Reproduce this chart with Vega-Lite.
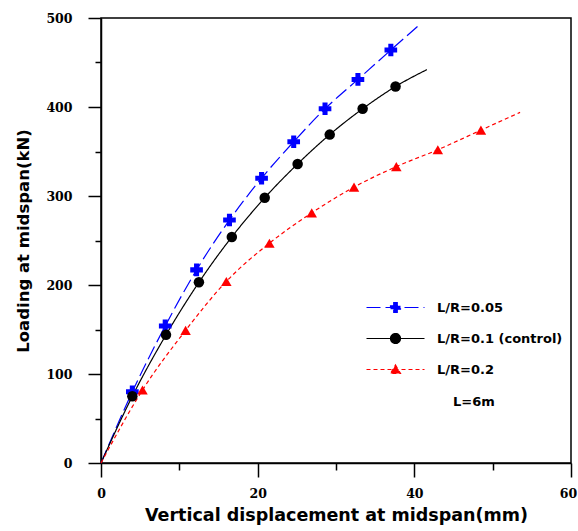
{
  "$schema": "https://vega.github.io/schema/vega-lite/v6.json",
  "autosize": "none",
  "width": 470,
  "height": 445,
  "padding": {"left": 101, "top": 18, "right": 7, "bottom": 68},
  "background": "white",
  "config": {
    "view": {"stroke": "black", "strokeWidth": 1.5},
    "axis": {"grid": false, "domainColor": "black", "domainWidth": 1.5, "tickColor": "black", "tickWidth": 1.5, "labelColor": "black", "titleColor": "black", "labelFlush": false, "labelOverlap": false}
  },
  "datasets": {
    "curves": [
      {"series": "L/R=0.05", "disp": 0, "load": 0, "measured": false},
      {"series": "L/R=0.05", "disp": 4.0, "load": 80, "measured": true},
      {"series": "L/R=0.05", "disp": 8.2, "load": 154, "measured": true},
      {"series": "L/R=0.05", "disp": 12.2, "load": 217, "measured": true},
      {"series": "L/R=0.05", "disp": 16.4, "load": 273, "measured": true},
      {"series": "L/R=0.05", "disp": 20.5, "load": 320, "measured": true},
      {"series": "L/R=0.05", "disp": 24.6, "load": 361, "measured": true},
      {"series": "L/R=0.05", "disp": 28.6, "load": 398, "measured": true},
      {"series": "L/R=0.05", "disp": 32.8, "load": 431, "measured": true},
      {"series": "L/R=0.05", "disp": 37.0, "load": 464, "measured": true},
      {"series": "L/R=0.05", "disp": 40.6, "load": 492, "measured": false},
      {"series": "L/R=0.1 (control)", "disp": 0, "load": 0, "measured": false},
      {"series": "L/R=0.1 (control)", "disp": 4.0, "load": 75, "measured": true},
      {"series": "L/R=0.1 (control)", "disp": 8.3, "load": 144, "measured": true},
      {"series": "L/R=0.1 (control)", "disp": 12.5, "load": 203, "measured": true},
      {"series": "L/R=0.1 (control)", "disp": 16.7, "load": 254, "measured": true},
      {"series": "L/R=0.1 (control)", "disp": 20.9, "load": 298, "measured": true},
      {"series": "L/R=0.1 (control)", "disp": 25.1, "load": 336, "measured": true},
      {"series": "L/R=0.1 (control)", "disp": 29.2, "load": 369, "measured": true},
      {"series": "L/R=0.1 (control)", "disp": 33.4, "load": 398, "measured": true},
      {"series": "L/R=0.1 (control)", "disp": 37.6, "load": 423, "measured": true},
      {"series": "L/R=0.1 (control)", "disp": 41.6, "load": 442, "measured": false},
      {"series": "L/R=0.2", "disp": 0, "load": 0, "measured": false},
      {"series": "L/R=0.2", "disp": 5.3, "load": 82, "measured": true},
      {"series": "L/R=0.2", "disp": 10.8, "load": 149, "measured": true},
      {"series": "L/R=0.2", "disp": 16.0, "load": 204, "measured": true},
      {"series": "L/R=0.2", "disp": 21.5, "load": 247, "measured": true},
      {"series": "L/R=0.2", "disp": 26.9, "load": 281, "measured": true},
      {"series": "L/R=0.2", "disp": 32.3, "load": 310, "measured": true},
      {"series": "L/R=0.2", "disp": 37.7, "load": 333, "measured": true},
      {"series": "L/R=0.2", "disp": 43.0, "load": 352, "measured": true},
      {"series": "L/R=0.2", "disp": 48.5, "load": 374, "measured": true},
      {"series": "L/R=0.2", "disp": 53.5, "load": 394, "measured": false}
    ],
    "notes": [
      {"note": "L=6m", "disp": 47.6, "load": 68}
    ]
  },
  "encoding": {
    "x": {
      "field": "disp", "type": "quantitative",
      "scale": {"domain": [0, 60], "nice": false, "zero": true},
      "axis": {
        "values": [0, 10, 20, 30, 40, 50, 60],
        "labelExpr": "datum.value % 20 === 0 ? datum.label : ''",
        "tickSize": {"condition": {"test": "datum.value % 20 === 0", "value": 14}, "value": 7},
        "labelOffset": {"condition": {"test": "datum.value === 60", "value": -3}, "value": 0},
        "labelFont": "DejaVu Serif", "labelFontWeight": "bold", "labelFontSize": 12.5,
        "labelPadding": 10,
        "title": "Vertical displacement at midspan(mm)",
        "titleFont": "DejaVu Sans", "titleFontSize": 17.5, "titleFontWeight": "bold",
        "titlePadding": 7
      }
    },
    "y": {
      "field": "load", "type": "quantitative",
      "scale": {"domain": [0, 500], "nice": false},
      "axis": {
        "values": [0, 50, 100, 150, 200, 250, 300, 350, 400, 450, 500],
        "labelExpr": "datum.value % 100 === 0 ? datum.label : ''",
        "tickSize": {"condition": {"test": "datum.value % 100 === 0", "value": 13}, "value": 6},
        "labelFont": "DejaVu Serif", "labelFontWeight": "bold", "labelFontSize": 12.5,
        "labelPadding": 16,
        "title": "Loading at midspan(kN)",
        "titleFont": "DejaVu Sans", "titleFontSize": 16.5, "titleFontWeight": "bold",
        "titlePadding": 14
      }
    }
  },
  "layer": [
    {
      "data": {"name": "curves"},
      "mark": {"type": "line", "interpolate": "monotone", "strokeWidth": 1.2},
      "encoding": {
        "color": {
          "field": "series", "type": "nominal",
          "scale": {"domain": ["L/R=0.05", "L/R=0.1 (control)", "L/R=0.2"], "range": ["#0000ff", "#000000", "#ff0000"]},
          "legend": {
            "orient": "none", "legendX": 264, "legendY": 283, "title": null,
            "padding": 0, "symbolSize": 100, "symbolStrokeWidth": 1.2,
            "labelOffset": 59, "rowPadding": 16,
            "labelFont": "DejaVu Sans", "labelFontWeight": "bold", "labelFontSize": 13, "labelColor": "black",
            "encode": {
              "symbols": {
                "update": {
                  "shape": {"signal": "datum.value === 'L/R=0.05' ? 'M-1,0H10.6M3.8,-0.35H4.45V-1H5.15V-0.35H5.8V0.35H5.15V1H4.45V0.35H3.8Z' : (datum.value === 'L/R=0.2' ? 'M-1,0H10.6M4.8,-0.9L5.8,0.8H3.8Z' : 'M-1,0H10.6M3.8,0A1,1,0,1,1,5.8,0A1,1,0,1,1,3.8,0Z')"},
                  "fill": {"signal": "datum.value === 'L/R=0.05' ? '#0000ff' : (datum.value === 'L/R=0.2' ? '#ff0000' : '#000000')"},
                  "fillOpacity": {"value": 1},
                  "strokeDash": {"signal": "datum.value === 'L/R=0.2' ? [4, 3] : [1, 0]"}
                }
              }
            }
          }
        },
        "strokeDash": {
          "field": "series", "type": "nominal",
          "scale": {"domain": ["L/R=0.05", "L/R=0.1 (control)", "L/R=0.2"], "range": [[14, 5], [1, 0], [4, 3]]},
          "legend": null
        }
      }
    },
    {
      "data": {"name": "curves"},
      "transform": [{"filter": "datum.measured && datum.series === 'L/R=0.05'"}],
      "mark": {"type": "point", "shape": "cross", "size": 160, "filled": true, "opacity": 1},
      "encoding": {"color": {"field": "series", "type": "nominal", "legend": null}}
    },
    {
      "data": {"name": "curves"},
      "transform": [{"filter": "datum.measured && datum.series === 'L/R=0.1 (control)'"}],
      "mark": {"type": "point", "shape": "circle", "size": 110, "filled": true, "opacity": 1},
      "encoding": {"color": {"field": "series", "type": "nominal", "legend": null}}
    },
    {
      "data": {"name": "curves"},
      "transform": [{"filter": "datum.measured && datum.series === 'L/R=0.2'"}],
      "mark": {"type": "point", "shape": "triangle-up", "size": 110, "filled": true, "opacity": 1},
      "encoding": {"color": {"field": "series", "type": "nominal", "legend": null}}
    },
    {
      "data": {"name": "notes"},
      "mark": {"type": "text", "font": "DejaVu Sans", "fontWeight": "bold", "fontSize": 13, "align": "center", "baseline": "middle", "color": "black"},
      "encoding": {
        "text": {"field": "note", "type": "nominal"}
      }
    }
  ]
}
